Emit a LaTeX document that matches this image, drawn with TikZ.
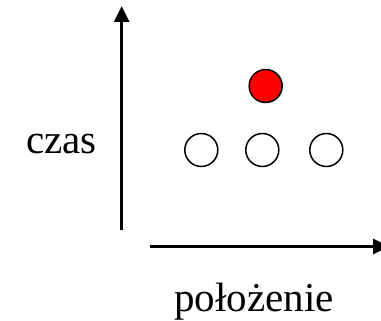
\documentclass[tikz,border=0pt]{standalone}
\usepackage{fontspec}
\setmainfont{Liberation Serif}
\usetikzlibrary{arrows.meta,positioning}

\tikzset{
	dot/.style={circle, draw, line width=1.5pt, minimum size=33pt, inner sep=0pt},
	axis/.style={line width=2.8pt, -{Triangle[length=16pt,width=15pt]}},
	lbl/.style={anchor=base, font=\fontsize{41}{49}\selectfont}
}

\begin{document}
\begin{tikzpicture}[x=1pt, y=-1pt]
		\useasboundingbox (0,0) rectangle (381,321);

		\coordinate (t0) at (121.7,230);
		\coordinate (t1) at (121.7,6);
		\coordinate (x0) at (150,246.5);
		\coordinate (x1) at (389,246.5);

		\draw (265.7,86) node [dot, fill=red] (e) {};
		\draw (201.3,150) node [dot] (p1) {};
		\draw (262.3,150) node [dot] (p2) {};
		\draw (326.3,150) node [dot] (p3) {};

		\draw (61.5,153.3) node [lbl] (czas) {czas};
		\draw (254,311.7) node [lbl] (pol) {położenie};

		\draw [axis] (t0) -- (t1);
		\draw [axis] (x0) -- (x1);
	\end{tikzpicture}
\end{document}
